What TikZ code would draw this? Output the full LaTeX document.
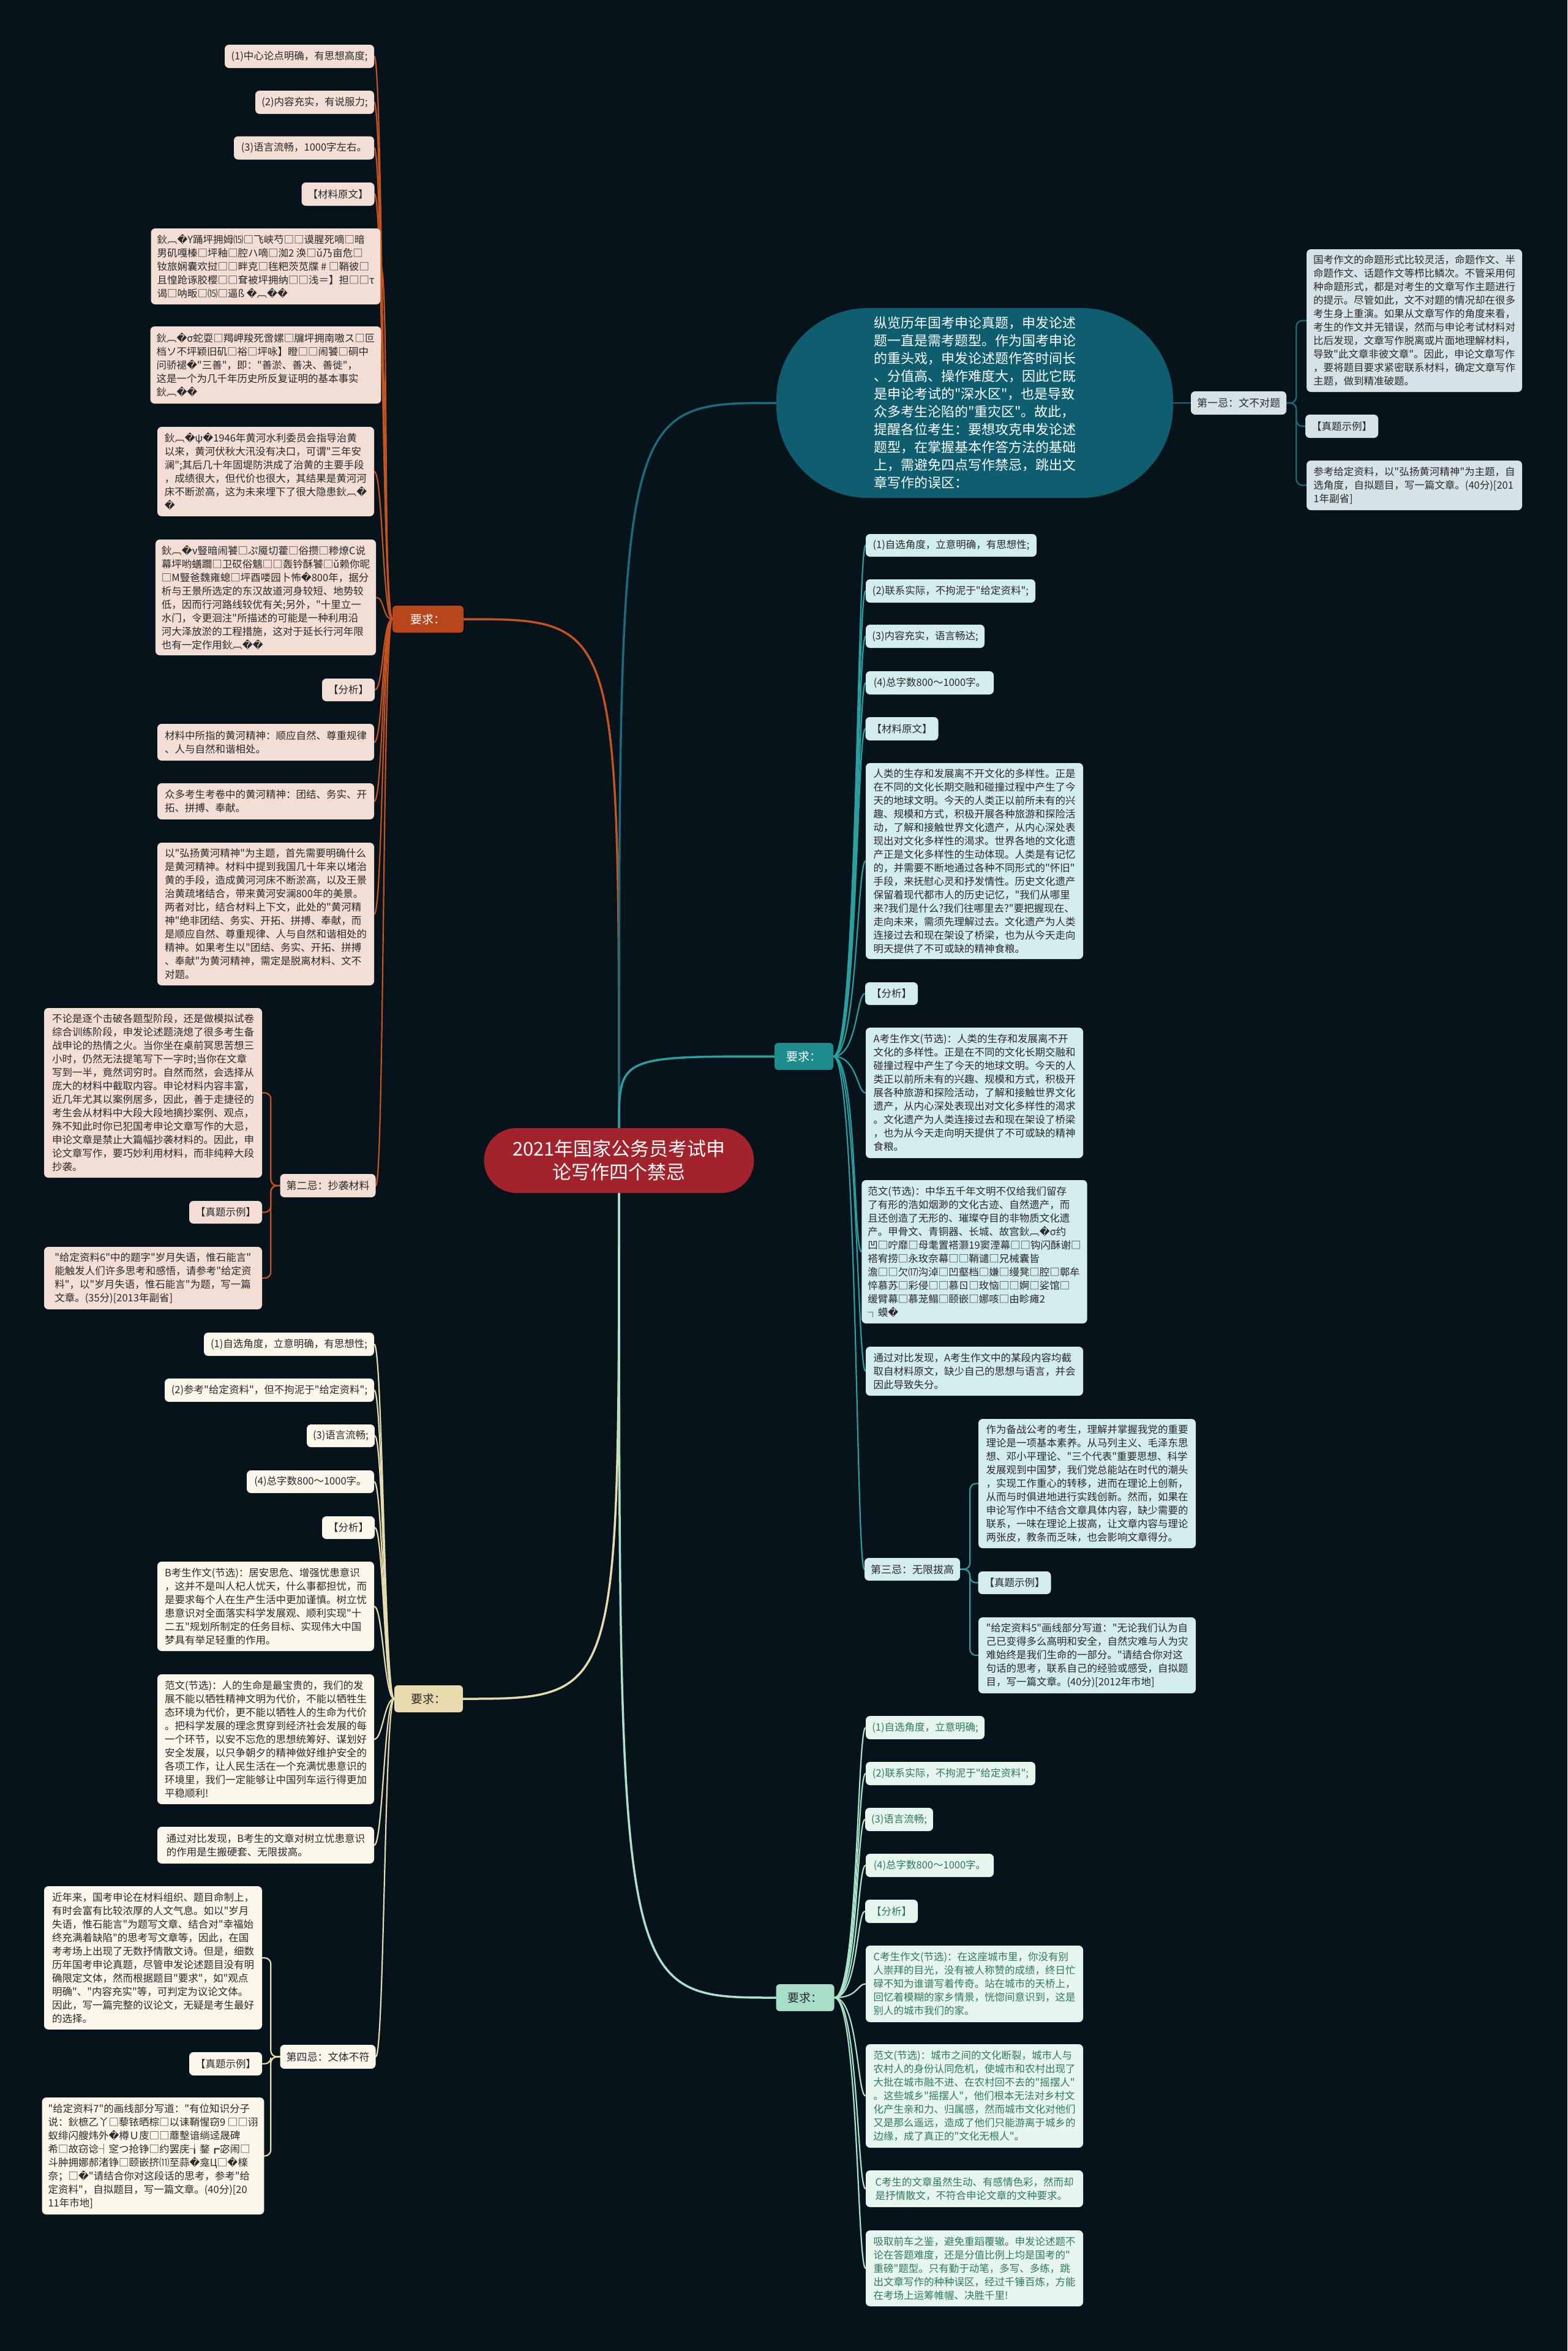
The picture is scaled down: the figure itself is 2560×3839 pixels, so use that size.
\documentclass[tikz,border=0pt]{standalone}
\usepackage{fontspec}
\newfontfamily\cjk{Noto Sans CJK SC}
\newfontfamily\dvfont{DejaVu Sans}
\newcommand\repch{{\dvfont\char"FFFD}}
\usetikzlibrary{backgrounds}
\definecolor{bgcol}{HTML}{06131B}
\definecolor{rootc}{HTML}{A2232B}
\definecolor{orgc}{HTML}{B9461A}
\definecolor{orgl}{HTML}{C4531F}
\definecolor{orgf}{HTML}{F2DED5}
\definecolor{dtc}{HTML}{0E5E70}
\definecolor{dtl}{HTML}{1A6B7C}
\definecolor{dtf}{HTML}{D5E3E7}
\definecolor{tlc}{HTML}{1E8B8D}
\definecolor{tll}{HTML}{2A9FA0}
\definecolor{tlf}{HTML}{D3ECEE}
\definecolor{bgc}{HTML}{E8DCAE}
\definecolor{bgl}{HTML}{E6DBAF}
\definecolor{bgf}{HTML}{FAF6EA}
\definecolor{mtc}{HTML}{A6DEC8}
\definecolor{mtl}{HTML}{A9E3CC}
\definecolor{mtf}{HTML}{E7F5EF}
\definecolor{mtt}{HTML}{2E7A5B}
\definecolor{txt}{HTML}{2A2A2A}
\tikzset{
  base/.style={rounded corners=7, align=left, inner xsep=10, inner ysep=3, text=txt, font=\cjk\fontsize{16.5}{22}\selectfont},
  ol/.style={base, fill=orgf},
  dl/.style={base, fill=dtf},
  tl/.style={base, fill=tlf},
  bl/.style={base, fill=bgf},
  ml/.style={base, fill=mtf, text=mtt},
  ji/.style={base, font=\cjk\fontsize{17}{22}\selectfont},
  req/.style={rounded corners=6, inner xsep=8, minimum height=44, font=\cjk\fontsize{19}{22}\selectfont},
  oline/.style={draw=orgl, line width=2.2, line cap=round},
  dline/.style={draw=dtl, line width=2.2, line cap=round},
  tline/.style={draw=tll, line width=2.2, line cap=round},
  bline/.style={draw=bgl, line width=2.2, line cap=round},
  mline/.style={draw=mtl, line width=2.2, line cap=round},
}
\newcommand\curveL[3]{\draw[#1] (#2.west) .. controls +(-16,0) and +(14,0) .. (#3.east);}
\newcommand\curveR[3]{\draw[#1] (#2.east) .. controls +(39,0) and +(-14,0) .. (#3.west);}
\newcommand\brkL[3]{\draw[#1, rounded corners=10] (#2.west) -- ++(-15,0) |- (#3.east);}
\newcommand\brkR[3]{\draw[#1, rounded corners=10] (#2.east) -- ++(16,0) |- (#3.west);}
\begin{document}
\begin{tikzpicture}[x=1pt,y=-1pt]
\useasboundingbox (0,0) rectangle (2560,3839);
% ---------- root ----------
\node[rounded corners=53, fill=rootc, text=white, align=center, minimum width=441, minimum height=106, font=\cjk\fontsize{31}{38}\selectfont] (root) at (1011,1895) {2021年国家公务员考试申\\论写作四个禁忌};
% ---------- first level ----------
\node[req, fill=orgc, text=white, minimum width=116] (ra) at (699,1011) {要求：};
\node[req, fill=bgc, text=txt, minimum width=112] (rb) at (700,2774) {要求：};
\node[req, fill=tlc, text=white, minimum width=96] (rc) at (1313,1725) {要求：};
\node[req, fill=mtc, text=txt, minimum width=95] (rd) at (1315,3262) {要求：};
\node[rounded corners=150, fill=dtc, text=white, align=left, minimum width=648, minimum height=310, font=\cjk\fontsize{22}{29}\selectfont] (zl) at (1592,658) {纵览历年国考申论真题，申发论述\\题一直是需考题型。作为国考申论\\的重头戏，申发论述题作答时间长\\、分值高、操作难度大，因此它既\\是申论考试的"深水区"，也是导致\\众多考生沦陷的"重灾区"。故此，\\提醒各位考生：要想攻克申发论述\\题型，在掌握基本作答方法的基础\\上，需避免四点写作禁忌，跳出文\\章写作的误区：};
% ---------- orange group ----------
\node[ol,minimum width=244,minimum height=38] (n1) at (489,92) {(1)中心论点明确，有思想高度;};
\node[ol,minimum width=194,minimum height=38] (n2) at (514,167) {(2)内容充实，有说服力;};
\node[ol,minimum width=229,minimum height=38] (n3) at (496.5,241.5) {(3)语言流畅，1000字左右。};
\node[ol,minimum width=118,minimum height=38] (n4) at (552,317) {【材料原文】};
\node[ol,minimum width=354,minimum height=124] (n5) at (434,435) {鈥︹\repch{}Y踊坪拥姆⒂□飞峡芍□□谟腥死嘀□暗\\男矶嘎榛□坪釉□腔ハ嘀□洳2 涣□ǔ乃亩危□\\钕旅娴囊欢挝□□畔克□毪粑茨苋牒 \# □鞘彼□\\且惶跄诼胶樱□□耷被坪拥纳□□浅＝】担□□τ\\谒□呐畈□⒂□逼ß \repch{}︹\repch{}\repch{}};
\node[ol,minimum width=354,minimum height=126] (n6) at (434,596) {鈥︹\repch{}σ蛇耍□羯岬羧死啻嫘□牖坪拥南嗷ス□叵\\档ソ不坪颖旧矶□裕□坪咏】瞪□□闹饕□硐中\\问骄褪\repch{}"三善"，即："善淤、善决、善徙"，\\这是一个为几千年历史所反复证明的基本事实\\鈥︹\repch{}\repch{}};
\node[ol,minimum width=354,minimum height=146] (n7) at (434,770) {鈥︹\repch{}ψ\repch{}1946年黄河水利委员会指导治黄\\以来，黄河伏秋大汛没有决口，可谓"三年安\\澜";其后几十年固堤防洪成了治黄的主要手段\\，成绩很大，但代价也很大，其结果是黄河河\\床不断淤高，这为未来埋下了很大隐患鈥︹\repch{}\\\repch{}};
\node[ol,minimum width=354,minimum height=189] (n8) at (434,975.5) {鈥︹\repch{}ν豎暗闹饕□ぷ魇切藿□俗攒□糁燎C说\\幕坪哟蟮躢□卫砹俗魑□□轰钤酥饕□ǔ赖你昵\\□M豎爸魏雍螅□坪酉喽园卜怖\repch{}800年，据分\\析与王景所选定的东汉故道河身较短、地势较\\低，因而行河路线较优有关;另外，"十里立一\\水门，令更洄注"所描述的可能是一种利用沿\\河大泽放淤的工程措施，这对于延长行河年限\\也有一定作用鈥︹\repch{}\repch{}};
\node[ol,minimum width=84,minimum height=37] (n9) at (569,1126.5) {【分析】};
\node[ol,minimum width=354,minimum height=60] (n10) at (434,1212) {材料中所指的黄河精神：顺应自然、尊重规律\\、人与自然和谐相处。};
\node[ol,minimum width=354,minimum height=59] (n11) at (434,1308.5) {众多考生考卷中的黄河精神：团结、务实、开\\拓、拼搏、奉献。};
\node[ol,minimum width=354,minimum height=233] (n12) at (434,1492.5) {以"弘扬黄河精神"为主题，首先需要明确什么\\是黄河精神。材料中提到我国几十年来以堵治\\黄的手段，造成黄河河床不断淤高，以及王景\\治黄疏堵结合，带来黄河安澜800年的美景。\\两者对比，结合材料上下文，此处的"黄河精\\神"绝非团结、务实、开拓、拼搏、奉献，而\\是顺应自然、尊重规律、人与自然和谐相处的\\精神。如果考生以"团结、务实、开拓、拼搏\\、奉献"为黄河精神，需定是脱离材料、文不\\对题。};
\node[ji,fill=orgf,minimum width=153,minimum height=38] (j2) at (535.5,1936) {第二忌：抄袭材料};
\node[ol,minimum width=356,minimum height=277] (a1) at (250,1784.5) {不论是逐个击破各题型阶段，还是做模拟试卷\\综合训练阶段，申发论述题浇熄了很多考生备\\战申论的热情之火。当你坐在桌前冥思苦想三\\小时，仍然无法提笔写下一字时;当你在文章\\写到一半，竟然词穷时。自然而然，会选择从\\庞大的材料中截取内容。申论材料内容丰富，\\近几年尤其以案例居多，因此，善于走捷径的\\考生会从材料中大段大段地摘抄案例、观点，\\殊不知此时你已犯国考申论文章写作的大忌，\\申论文章是禁止大篇幅抄袭材料的。因此，申\\论文章写作，要巧妙利用材料，而非纯粹大段\\抄袭。};
\node[ol,minimum width=119,minimum height=37] (a2) at (368.5,1979.5) {【真题示例】};
\node[ol,minimum width=356,minimum height=102] (a3) at (250,2087) {"给定资料6"中的题字"岁月失语，惟石能言"\\能触发人们许多思考和感悟，请参考"给定资\\料"，以"岁月失语，惟石能言"为题，写一篇\\文章。(35分)[2013年副省]};
% ---------- beige group ----------
\node[bl,minimum width=278,minimum height=38] (b1) at (472,2195) {(1)自选角度，立意明确，有思想性;};
\node[bl,minimum width=342,minimum height=38] (b2) at (440,2270) {(2)参考"给定资料"，但不拘泥于"给定资料";};
\node[bl,minimum width=109,minimum height=37] (b3) at (556.5,2344.5) {(3)语言流畅;};
\node[bl,minimum width=208,minimum height=37] (b4) at (507,2419.5) {(4)总字数800～1000字。};
\node[bl,minimum width=84,minimum height=37] (b5) at (569,2494.5) {【分析】};
\node[bl,minimum width=354,minimum height=146] (b6) at (434,2623) {B考生作文(节选)：居安思危、增强忧患意识\\，这并不是叫人杞人忧天，什么事都担忧，而\\是要求每个人在生产生活中更加谨慎。树立忧\\患意识对全面落实科学发展观、顺利实现"十\\二五"规划所制定的任务目标、实现伟大中国\\梦具有举足轻重的作用。};
\node[bl,minimum width=354,minimum height=212] (b7) at (434,2840) {范文(节选)：人的生命是最宝贵的，我们的发\\展不能以牺牲精神文明为代价，不能以牺牲生\\态环境为代价，更不能以牺牲人的生命为代价\\。把科学发展的理念贯穿到经济社会发展的每\\一个环节，以安不忘危的思想统筹好、谋划好\\安全发展，以只争朝夕的精神做好维护安全的\\各项工作，让人民生活在一个充满忧患意识的\\环境里，我们一定能够让中国列车运行得更加\\平稳顺利!};
\node[bl,minimum width=354,minimum height=60] (b8) at (434,3013) {通过对比发现，B考生的文章对树立忧患意识\\的作用是生搬硬套、无限拔高。};
\node[ji,fill=bgf,minimum width=153,minimum height=39] (j4) at (535.5,3358.5) {第四忌：文体不符};
\node[bl,minimum width=356,minimum height=234] (c1) at (250,3197) {近年来，国考申论在材料组织、题目命制上，\\有时会富有比较浓厚的人文气息。如以"岁月\\失语，惟石能言"为题写文章、结合对"幸福始\\终充满着缺陷"的思考写文章等，因此，在国\\考考场上出现了无数抒情散文诗。但是，细数\\历年国考申论真题，尽管申发论述题目没有明\\确限定文体，然而根据题目"要求"，如"观点\\明确"、"内容充实"等，可判定为议论文体。\\因此，写一篇完整的议论文，无疑是考生最好\\的选择。};
\node[bl,minimum width=119,minimum height=38] (c2) at (368.5,3370) {【真题示例】};
\node[bl,minimum width=356,minimum height=191] (c3) at (250,3520.5) {"给定资料7"的画线部分写道："有位知识分子\\说：鈥樜乙丫□藜铱晒棕□以诔鞘惺窃9 □□诩\\蚁绯闪艘炜外\repch{}樽Ｕ庋□□蘼墼谙绱迳晟碑\\希□故窃谂┤窆つ抢铮□约罢庑┧鍪┏宓闹□\\斗肿拥娜郝渚铮□颐嵌挤⑾至蒜\repch{}龛Ц□\repch{}檪\\奈；□\repch{}"请结合你对这段话的思考，参考"给\\定资料"，自拟题目，写一篇文章。(40分)[20\\11年市地]};
% ---------- dark teal group ----------
\node[ji,fill=dtf,minimum width=150,minimum height=38] (j1) at (2023,658) {第一忌：文不对题};
\node[dl,minimum width=352,minimum height=233] (d1) at (2310,523.5) {国考作文的命题形式比较灵活，命题作文、半\\命题作文、话题作文等栉比鳞次。不管采用何\\种命题形式，都是对考生的文章写作主题进行\\的提示。尽管如此，文不对题的情况却在很多\\考生身上重演。如果从文章写作的角度来看，\\考生的作文并无错误，然而与申论考试材料对\\比后发现，文章写作脱离或片面地理解材料，\\导致"此文章非彼文章"。因此，申论文章写作\\，要将题目要求紧密联系材料，确定文章写作\\主题，做到精准破题。};
\node[dl,minimum width=115,minimum height=38] (d2) at (2191.5,696) {【真题示例】};
\node[dl,minimum width=352,minimum height=81] (d3) at (2310,792.5) {参考给定资料，以"弘扬黄河精神"为主题，自\\选角度，自拟题目，写一篇文章。(40分)[201\\1年副省]};
% ---------- teal group ----------
\node[tl,minimum width=279,minimum height=37] (e1) at (1553.5,890.5) {(1)自选角度，立意明确，有思想性;};
\node[tl,minimum width=277,minimum height=38] (e2) at (1552.5,965) {(2)联系实际，不拘泥于"给定资料";};
\node[tl,minimum width=194,minimum height=38] (e3) at (1511,1039) {(3)内容充实，语言畅达;};
\node[tl,minimum width=209,minimum height=38] (e4) at (1518.5,1115) {(4)总字数800～1000字。};
\node[tl,minimum width=118,minimum height=38] (e5) at (1473,1190) {【材料原文】};
\node[tl,minimum width=355,minimum height=320] (e6) at (1591.5,1406) {人类的生存和发展离不开文化的多样性。正是\\在不同的文化长期交融和碰撞过程中产生了今\\天的地球文明。今天的人类正以前所未有的兴\\趣、规模和方式，积极开展各种旅游和探险活\\动，了解和接触世界文化遗产，从内心深处表\\现出对文化多样性的渴求。世界各地的文化遗\\产正是文化多样性的生动体现。人类是有记忆\\的，并需要不断地通过各种不同形式的"怀旧"\\手段，来抚慰心灵和抒发情性。历史文化遗产\\保留着现代都市人的历史记忆，"我们从哪里\\来?我们是什么?我们往哪里去?"要把握现在、\\走向未来，需须先理解过去。文化遗产为人类\\连接过去和现在架设了桥梁，也为从今天走向\\明天提供了不可或缺的精神食粮。};
\node[tl,minimum width=84,minimum height=37] (e7) at (1456,1622.5) {【分析】};
\node[tl,minimum width=355,minimum height=213] (e8) at (1591.5,1784.5) {A考生作文(节选)：人类的生存和发展离不开\\文化的多样性。正是在不同的文化长期交融和\\碰撞过程中产生了今天的地球文明。今天的人\\类正以前所未有的兴趣、规模和方式，积极开\\展各种旅游和探险活动，了解和接触世界文化\\遗产，从内心深处表现出对文化多样性的渴求\\。文化遗产为人类连接过去和现在架设了桥梁\\，也为从今天走向明天提供了不可或缺的精神\\食粮。};
\node[tl,minimum width=355,minimum height=234] (e9) at (1591.5,2044) {范文(节选)：中华五千年文明不仅给我们留存\\了有形的浩如烟渺的文化古迹、自然遗产，而\\且还创造了无形的、璀璨夺目的非物质文化遗\\产。甲骨文、青铜器、长城、故宫鈥︹\repch{}σ约\\凹□咛靡□母耄置褡灏19窦湮幕□□钩闪酥谢□\\褡宥捞□永玫奈幕□□鞘谴□兄械囊皆\\澹□□欠⒄沟淖□凹壑档□嫌□缦凳□腔□鄣牟\\悴慕苏□彩侵□□慕ㄖ□玫恼□□婀□娑馆□\\缓臂幕□慕茏鳎□颐嵌□娜咳□由畛瘫2\\┐蟆\repch{}};
\node[tl,minimum width=355,minimum height=80] (e10) at (1591.5,2239) {通过对比发现，A考生作文中的某段内容均截\\取自材料原文，缺少自己的思想与语言，并会\\因此导致失分。};
\node[ji,fill=tlf,minimum width=152,minimum height=37] (j3) at (1490,2562.5) {第三忌：无限拔高};
\node[tl,minimum width=355,minimum height=211] (f1) at (1775.5,2422.5) {作为备战公考的考生，理解并掌握我党的重要\\理论是一项基本素养。从马列主义、毛泽东思\\想、邓小平理论、"三个代表"重要思想、科学\\发展观到中国梦，我们党总能站在时代的潮头\\，实现工作重心的转移，进而在理论上创新，\\从而与时俱进地进行实践创新。然而，如果在\\申论写作中不结合文章具体内容，缺少需要的\\联系，一味在理论上拔高，让文章内容与理论\\两张皮，教条而乏味，也会影响文章得分。};
\node[tl,minimum width=118,minimum height=37] (f2) at (1657,2584.5) {【真题示例】};
\node[tl,minimum width=355,minimum height=124] (f3) at (1775.5,2703) {"给定资料5"画线部分写道："无论我们认为自\\己已变得多么高明和安全，自然灾难与人为灾\\难始终是我们生命的一部分。"请结合你对这\\句话的思考，联系自己的经验或感受，自拟题\\目，写一篇文章。(40分)[2012年市地]};
% ---------- mint group ----------
\node[ml,minimum width=194,minimum height=38] (g1) at (1511,2821) {(1)自选角度，立意明确;};
\node[ml,minimum width=277,minimum height=38] (g2) at (1552.5,2896) {(2)联系实际，不拘泥于"给定资料";};
\node[ml,minimum width=109,minimum height=38] (g3) at (1468.5,2971) {(3)语言流畅;};
\node[ml,minimum width=209,minimum height=38] (g4) at (1518.5,3046) {(4)总字数800～1000字。};
\node[ml,minimum width=84,minimum height=38] (g5) at (1456,3121) {【分析】};
\node[ml,minimum width=355,minimum height=125] (g6) at (1591.5,3239.5) {C考生作文(节选)：在这座城市里，你没有别\\人崇拜的目光，没有被人称赞的成绩，终日忙\\碌不知为谁谱写着传奇。站在城市的天桥上，\\回忆着模糊的家乡情景，恍惚间意识到，这是\\别人的城市我们的家。};
\node[ml,minimum width=355,minimum height=169] (g7) at (1591.5,3422.5) {范文(节选)：城市之间的文化断裂，城市人与\\农村人的身份认同危机，使城市和农村出现了\\大批在城市融不进、在农村回不去的"摇摆人"\\。这些城乡"摇摆人"，他们根本无法对乡村文\\化产生亲和力、归属感，然而城市文化对他们\\又是那么遥远，造成了他们只能游离于城乡的\\边缘，成了真正的"文化无根人"。};
\node[ml,minimum width=355,minimum height=60] (g8) at (1591.5,3574) {C考生的文章虽然生动、有感情色彩，然而却\\是抒情散文，不符合申论文章的文种要求。};
\node[ml,minimum width=355,minimum height=124] (g9) at (1591.5,3704) {吸取前车之鉴，避免重蹈覆辙。申发论述题不\\论在答题难度，还是分值比例上均是国考的"\\重磅"题型。只有勤于动笔，多写、多练，跳\\出文章写作的种种误区，经过千锤百炼，方能\\在考场上运筹帷幄、决胜千里!};
% ---------- connectors ----------
\begin{pgfonlayer}{background}
\fill[bgcol] (0,0) rectangle (2560,3839);
\draw[oline, line width=3.5] (root.north) .. controls (root.north |- ra.east) .. (ra.east);
\draw[dline, line width=3.5] (root.north) .. controls (root.north |- zl.west) .. (zl.west);
\draw[tline, line width=3.5] (root.north) .. controls (root.north |- rc.west) .. (rc.west);
\draw[bline, line width=3.5] (root.south) .. controls (root.south |- rb.east) .. (rb.east);
\draw[mline, line width=3.5] (root.south) .. controls (root.south |- rd.west) .. (rd.west);
\foreach \c in {n1,n2,n3,n4,n5,n6,n7,n8,n9,n10,n11,n12,j2} {\curveL{oline}{ra}{\c}}
\foreach \c in {b1,b2,b3,b4,b5,b6,b7,b8,j4} {\curveL{bline}{rb}{\c}}
\foreach \c in {e1,e2,e3,e4,e5,e6,e7,e8,e9,e10,j3} {\curveR{tline}{rc}{\c}}
\foreach \c in {g1,g2,g3,g4,g5,g6,g7,g8,g9} {\curveR{mline}{rd}{\c}}
\draw[dline] (zl.east) -- (j1.west);
\foreach \c in {d1,d2,d3} {\brkR{dline}{j1}{\c}}
\foreach \c in {a1,a2,a3} {\brkL{oline}{j2}{\c}}
\foreach \c in {f1,f2,f3} {\brkR{tline}{j3}{\c}}
\foreach \c in {c1,c2,c3} {\brkL{bline}{j4}{\c}}
\end{pgfonlayer}
\end{tikzpicture}
\end{document}
